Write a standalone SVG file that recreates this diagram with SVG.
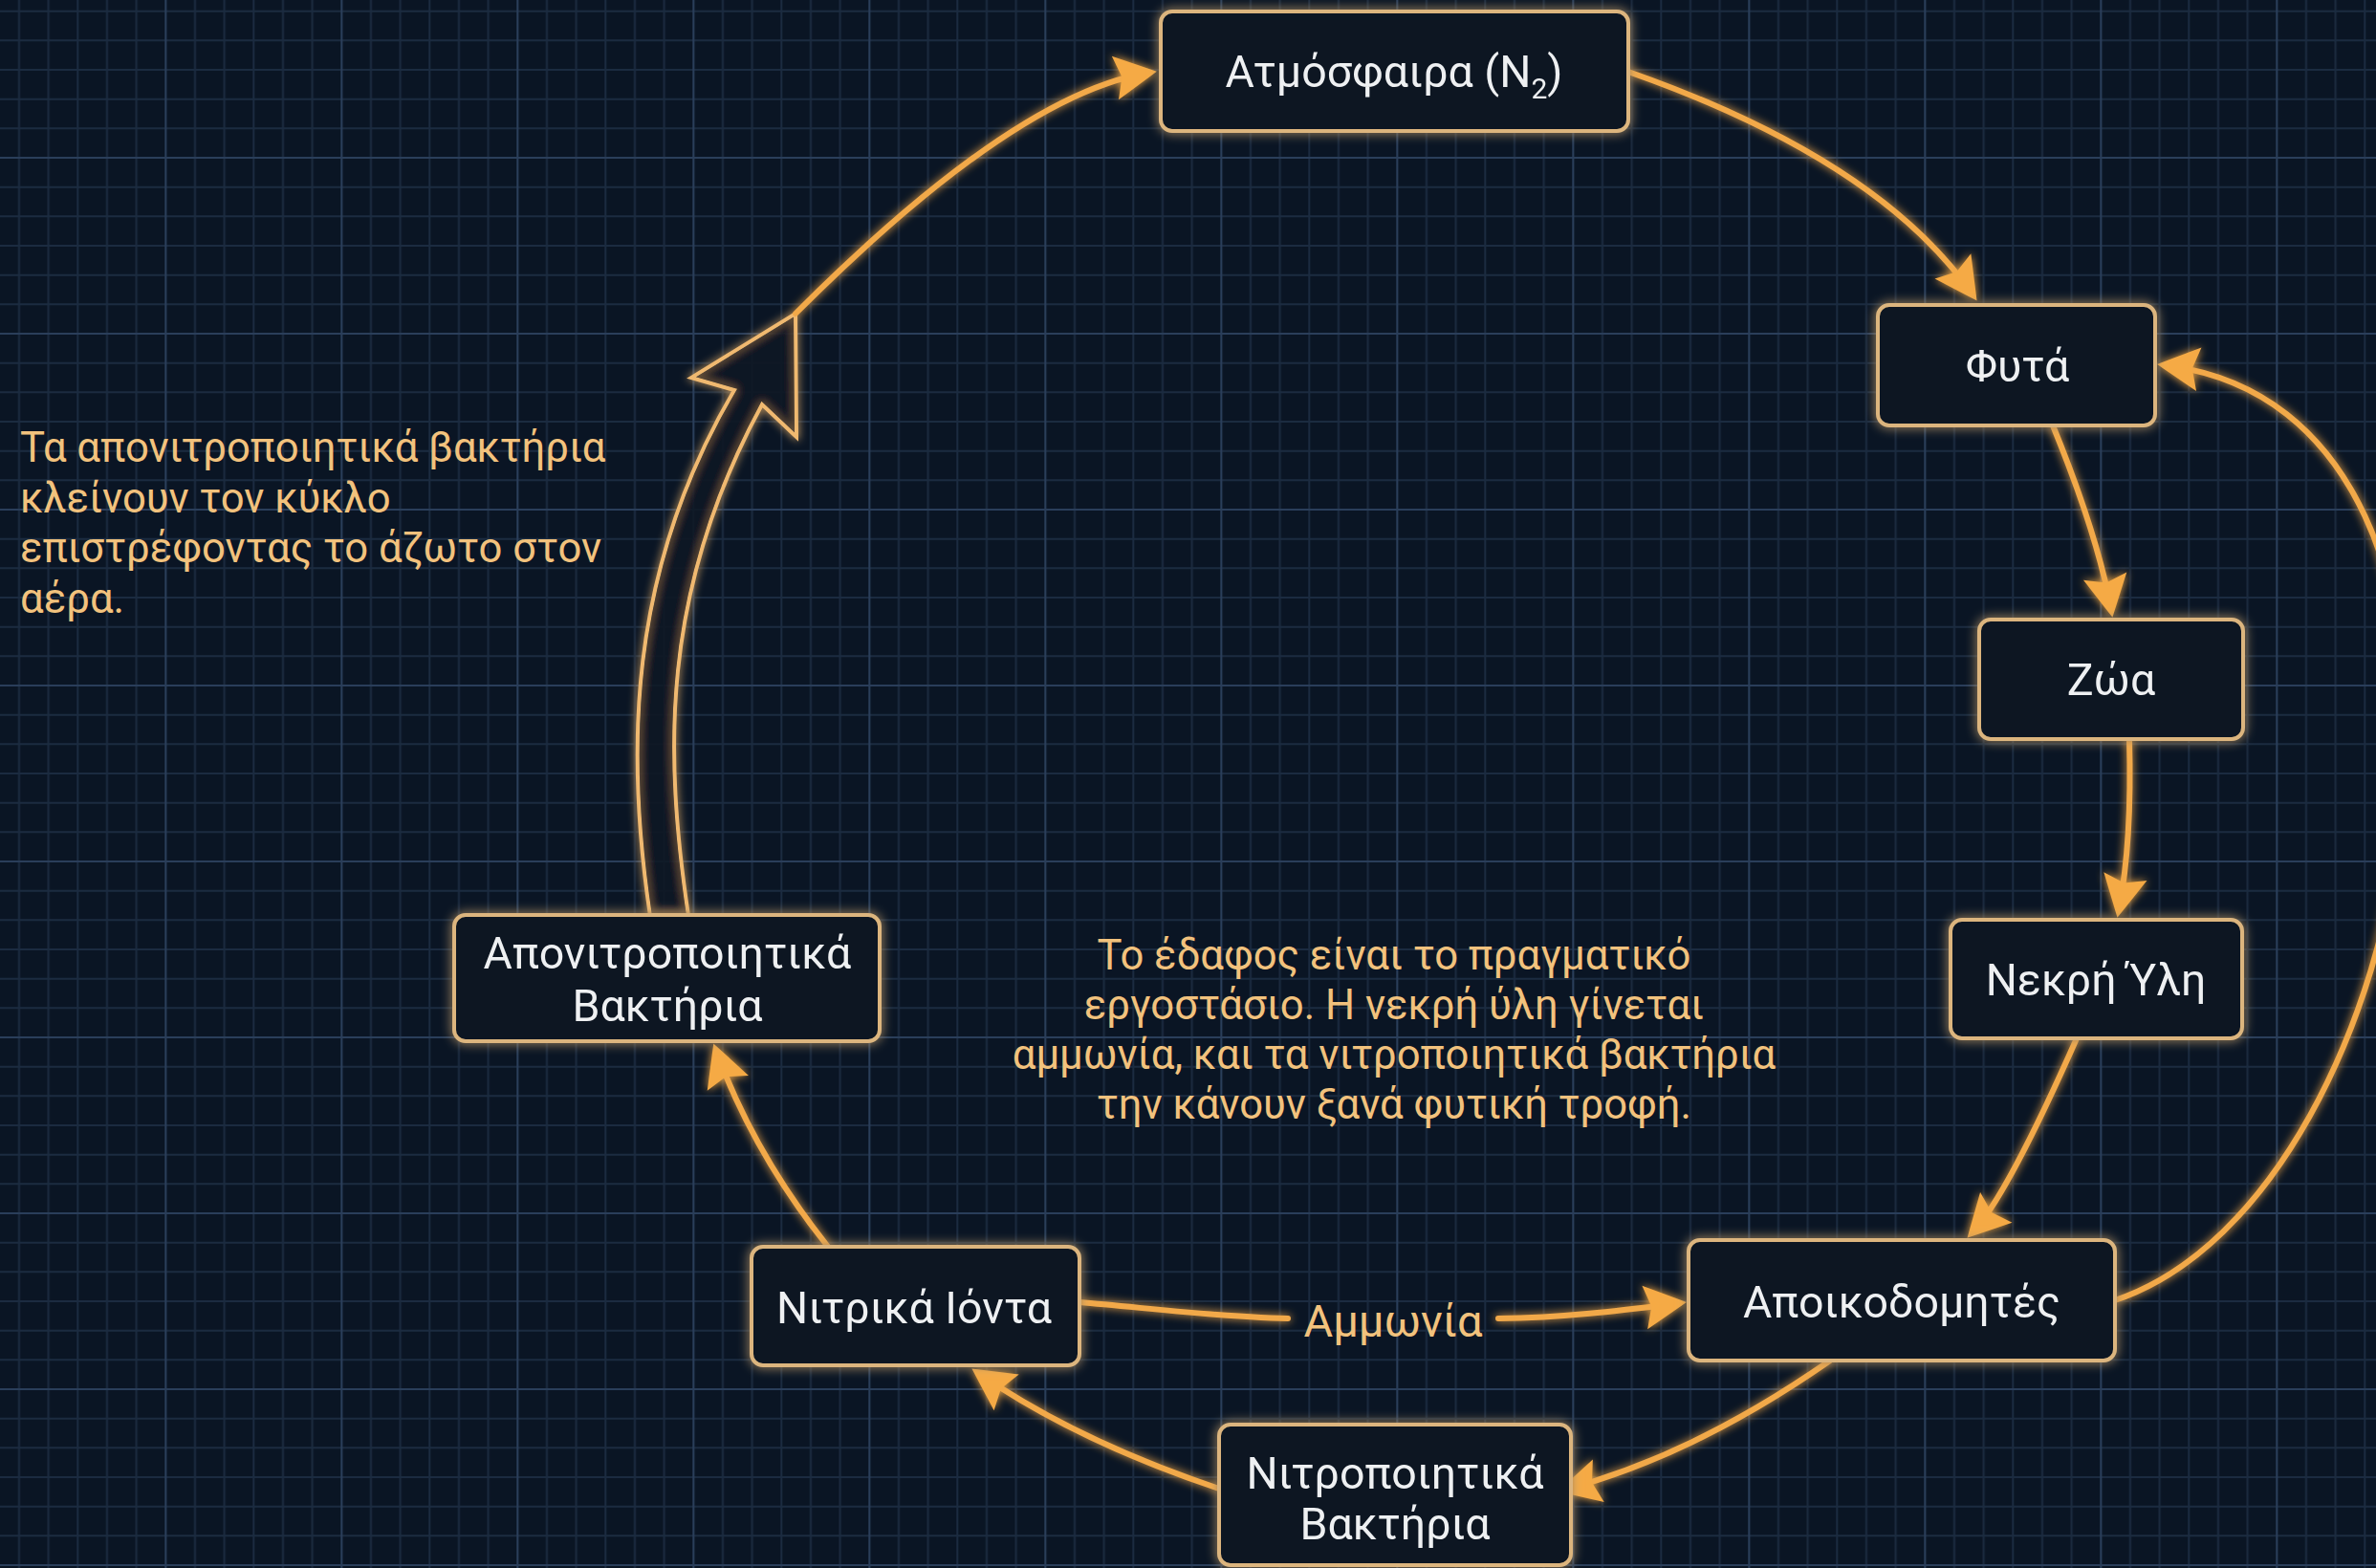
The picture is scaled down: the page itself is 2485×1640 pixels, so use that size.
<svg xmlns="http://www.w3.org/2000/svg" width="2485" height="1640" viewBox="0 0 2485 1640">
<defs>
<style>
.node rect{fill:#0b1420;stroke:#dcb57e;stroke-width:4;}
.nl{font-family:Roboto,"Noto Sans","DejaVu Sans",sans-serif;font-size:46.5px;fill:#eef0f2;text-anchor:middle;}
.conn{fill:none;stroke:#f2a94a;stroke-width:6;stroke-linecap:round;}
.note{font-family:Roboto,"Noto Sans","DejaVu Sans",sans-serif;font-size:43.6px;fill:#f2c27d;}
.edge-label{font-family:Roboto,"Noto Sans","DejaVu Sans",sans-serif;font-size:47px;fill:#f2c27d;text-anchor:middle;}
</style>
<pattern id="grid" x="-11.7" y="-20" width="184" height="184" patternUnits="userSpaceOnUse">
<path d="M31.67,0V184M62.33,0V184M93,0V184M123.67,0V184M154.33,0V184M0,31.67H184M0,62.33H184M0,93H184M0,123.67H184M0,154.33H184" stroke="#1b2b40" stroke-width="2" fill="none"/>
<path d="M1,0V184M0,1H184" stroke="#2a3e5a" stroke-width="2.2" fill="none"/>
</pattern>
<marker id="ah" markerUnits="userSpaceOnUse" viewBox="-40 -25 50 50" markerWidth="50" markerHeight="50" refX="0" refY="0" orient="auto">
<path d="M8,0 L-36,-23 L-29,0 L-36,23 Z" fill="#f5aa45"/>
</marker>
<filter id="glow" x="-10%" y="-10%" width="120%" height="120%">
<feGaussianBlur in="SourceGraphic" stdDeviation="5" result="b"/>
<feMerge><feMergeNode in="b"/><feMergeNode in="SourceGraphic"/></feMerge>
</filter>
<filter id="nglow" x="-10%" y="-25%" width="120%" height="150%">
<feGaussianBlur in="SourceGraphic" stdDeviation="6" result="b"/>
<feMerge><feMergeNode in="b"/><feMergeNode in="SourceGraphic"/></feMerge>
</filter>
</defs>
<rect width="2485" height="1640" fill="#0a1524"/>
<rect width="2485" height="1640" fill="url(#grid)"/>

<g id="connectors" filter="url(#glow)">
<path class="conn" d="M1703,75 Q1965,167 2063,308" marker-end="url(#ah)"/>
<path class="conn" d="M2147,445 Q2194,560 2208,638" marker-end="url(#ah)"/>
<path class="conn" d="M2227,773 Q2230,880 2216,952" marker-end="url(#ah)"/>
<path class="conn" d="M2172,1086 Q2099,1251 2063,1289" marker-end="url(#ah)"/>
<path class="conn" d="M2212,1360 C2540,1250 2670,430 2264,382" marker-end="url(#ah)"/>
<path class="conn" d="M1914,1423 Q1772,1522 1637,1558" marker-end="url(#ah)"/>
<path class="conn" d="M1275,1557 Q1126,1507 1023,1436" marker-end="url(#ah)"/>
<path class="conn" d="M866,1304 Q788,1206 749,1099" marker-end="url(#ah)"/>
<path class="conn" d="M1129,1362 C1200,1368 1280,1378 1347,1379"/>
<path class="conn" d="M1567,1379 C1640,1378 1700,1370 1756,1363" marker-end="url(#ah)"/>
<path d="M680,958 C655,790 655,600 768,408 L723,395 L832,328 L833,457 L797,423 C690,620 695,790 720,958 Z" fill="#0b1624" fill-opacity="0.7" stroke="#f0b970" stroke-width="4" stroke-linejoin="miter"/>
<path class="conn" d="M832,328 Q1062,98 1202,76" marker-end="url(#ah)"/>
</g>
<text class="edge-label" x="1457" y="1398">Αμμωνία</text>

<g id="node-atmosfaira" class="node" filter="url(#nglow)">
<rect x="1214" y="12" width="489" height="125" rx="12"/>
<text class="nl" x="1458" y="91">Ατμόσφαιρα (N<tspan font-size="30" dy="12">2</tspan><tspan dy="-12">)</tspan></text>
</g>
<g id="node-futa" class="node" filter="url(#nglow)">
<rect x="1964" y="319" width="290" height="126" rx="12"/>
<text class="nl" x="2110" y="399">Φυτά</text>
</g>
<g id="node-zoa" class="node" filter="url(#nglow)">
<rect x="2070" y="648" width="276" height="125" rx="12"/>
<text class="nl" x="2208" y="727">Ζώα</text>
</g>
<g id="node-nekri-yli" class="node" filter="url(#nglow)">
<rect x="2040" y="962" width="305" height="124" rx="12"/>
<text class="nl" x="2192" y="1041">Νεκρή Ύλη</text>
</g>
<g id="node-apoikodomites" class="node" filter="url(#nglow)">
<rect x="1766" y="1297" width="446" height="126" rx="12"/>
<text class="nl" x="1989" y="1378">Αποικοδομητές</text>
</g>
<g id="node-nitropoiitika" class="node" filter="url(#nglow)">
<rect x="1275" y="1490" width="368" height="147" rx="12"/>
<text class="nl" x="1459" y="1557">Νιτροποιητικά<tspan x="1459" dy="53">Βακτήρια</tspan></text>
</g>
<g id="node-nitrika-ionta" class="node" filter="url(#nglow)">
<rect x="786" y="1304" width="343" height="124" rx="12"/>
<text class="nl" x="956" y="1384">Νιτρικά Ιόντα</text>
</g>
<g id="node-aponitropoiitika" class="node" filter="url(#nglow)">
<rect x="475" y="957" width="445" height="132" rx="12"/>
<text class="nl" x="698" y="1013">Απονιτροποιητικά<tspan x="698" dy="55">Βακτήρια</tspan></text>
</g>

<g id="annotations">
<text class="note" x="21" y="483">Τα απονιτροποιητικά βακτήρια<tspan x="21" dy="52.5">κλείνουν τον κύκλο</tspan><tspan x="21" dy="52.5">επιστρέφοντας το άζωτο στον</tspan><tspan x="21" dy="52.5">αέρα.</tspan></text>
<text class="note" x="1458" y="1014" text-anchor="middle">Το έδαφος είναι το πραγματικό<tspan x="1458" dy="52">εργοστάσιο. Η νεκρή ύλη γίνεται</tspan><tspan x="1458" dy="52">αμμωνία, και τα νιτροποιητικά βακτήρια</tspan><tspan x="1458" dy="52">την κάνουν ξανά φυτική τροφή.</tspan></text>
</g>
</svg>
